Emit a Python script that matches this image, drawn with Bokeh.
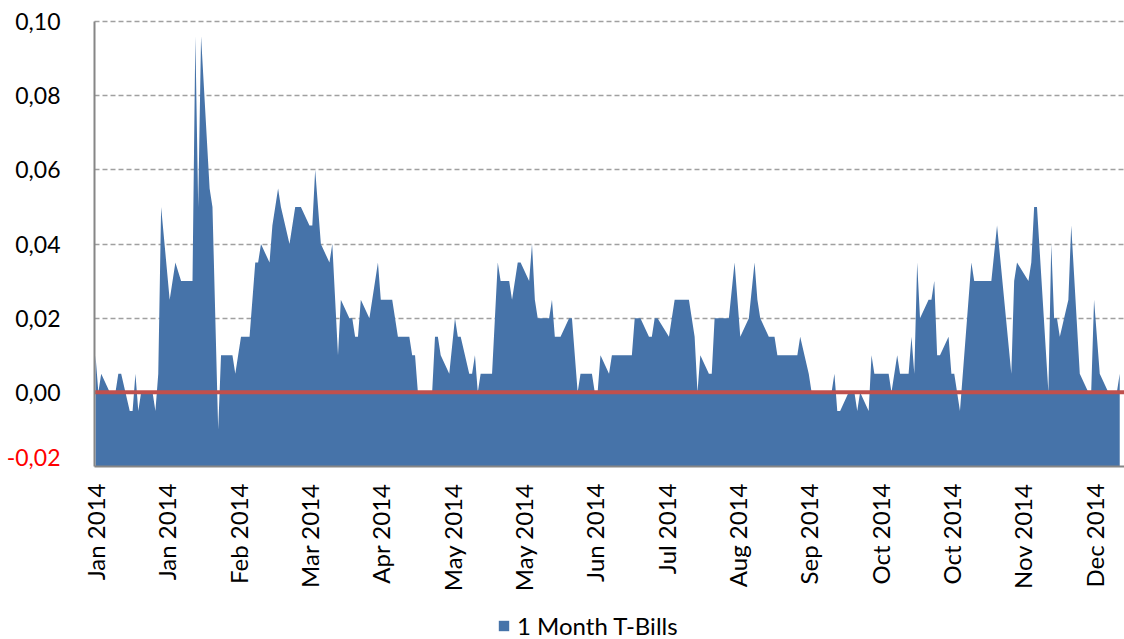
import math
import pandas as pd
from bokeh.plotting import figure
from bokeh.models import (Range1d, FixedTicker, CustomJSTickFormatter, LinearAxis,
                          Legend, LegendItem, Grid)
from bokeh.embed import file_html
from bokeh.resources import INLINE

# ---------------- data ----------------
dates = [
    "2014-01-01", "2014-01-02", "2014-01-03", "2014-01-06", "2014-01-08", "2014-01-09",
    "2014-01-10", "2014-01-13", "2014-01-14", "2014-01-15", "2014-01-16", "2014-01-17",
    "2014-01-21", "2014-01-22", "2014-01-23", "2014-01-24", "2014-01-27", "2014-01-29",
    "2014-01-31", "2014-02-04", "2014-02-05", "2014-02-06", "2014-02-07", "2014-02-10",
    "2014-02-11", "2014-02-13", "2014-02-14", "2014-02-18", "2014-02-19", "2014-02-21",
    "2014-02-24", "2014-02-26", "2014-02-27", "2014-02-28", "2014-03-03", "2014-03-04",
    "2014-03-06", "2014-03-07", "2014-03-10", "2014-03-12", "2014-03-14", "2014-03-17",
    "2014-03-18", "2014-03-19", "2014-03-21", "2014-03-24", "2014-03-25", "2014-03-27",
    "2014-03-28", "2014-03-31", "2014-04-01", "2014-04-02", "2014-04-03", "2014-04-04",
    "2014-04-07", "2014-04-10", "2014-04-11", "2014-04-15", "2014-04-17", "2014-04-21",
    "2014-04-22", "2014-04-23", "2014-04-24", "2014-04-29", "2014-04-30", "2014-05-01",
    "2014-05-02", "2014-05-05", "2014-05-07", "2014-05-08", "2014-05-09", "2014-05-12",
    "2014-05-13", "2014-05-14", "2014-05-15", "2014-05-16", "2014-05-20", "2014-05-22",
    "2014-05-23", "2014-05-26", "2014-05-27", "2014-05-29", "2014-05-30", "2014-06-02",
    "2014-06-03", "2014-06-04", "2014-06-05", "2014-06-09", "2014-06-10", "2014-06-11",
    "2014-06-13", "2014-06-16", "2014-06-17", "2014-06-19", "2014-06-20", "2014-06-24",
    "2014-06-25", "2014-06-26", "2014-06-27", "2014-06-30", "2014-07-01", "2014-07-08",
    "2014-07-09", "2014-07-11", "2014-07-14", "2014-07-15", "2014-07-16", "2014-07-17",
    "2014-07-21", "2014-07-23", "2014-07-28", "2014-07-30", "2014-07-31", "2014-08-01",
    "2014-08-04", "2014-08-05", "2014-08-06", "2014-08-11", "2014-08-13", "2014-08-15",
    "2014-08-18", "2014-08-20", "2014-08-21", "2014-08-22", "2014-08-25", "2014-08-27",
    "2014-08-28", "2014-09-04", "2014-09-05", "2014-09-08", "2014-09-09", "2014-09-16",
    "2014-09-17", "2014-09-18", "2014-09-19", "2014-09-22", "2014-09-24", "2014-09-25",
    "2014-09-26", "2014-09-29", "2014-09-30", "2014-10-01", "2014-10-06", "2014-10-07",
    "2014-10-09", "2014-10-10", "2014-10-13", "2014-10-14", "2014-10-15", "2014-10-16",
    "2014-10-17", "2014-10-20", "2014-10-21", "2014-10-22", "2014-10-23", "2014-10-24",
    "2014-10-27", "2014-10-28", "2014-10-29", "2014-10-31", "2014-11-04", "2014-11-05",
    "2014-11-11", "2014-11-13", "2014-11-18", "2014-11-19", "2014-11-20", "2014-11-24",
    "2014-11-25", "2014-11-26", "2014-11-27", "2014-12-01", "2014-12-02", "2014-12-03",
    "2014-12-04", "2014-12-05", "2014-12-08", "2014-12-09", "2014-12-12", "2014-12-15",
    "2014-12-16", "2014-12-17", "2014-12-19", "2014-12-22", "2014-12-25", "2014-12-26",
]
tbill_1m = [
    0.010, 0.000, 0.005, 0.000, 0.000, 0.005,
    0.005, -0.005, -0.005, 0.005, -0.005, 0.000,
    0.000, -0.005, 0.005, 0.050, 0.025, 0.035,
    0.030, 0.030, 0.096, 0.050, 0.096, 0.055,
    0.050, -0.010, 0.010, 0.010, 0.005, 0.015,
    0.015, 0.035, 0.035, 0.040, 0.035, 0.045,
    0.055, 0.050, 0.040, 0.050, 0.050, 0.045,
    0.045, 0.060, 0.040, 0.035, 0.040, 0.010,
    0.025, 0.020, 0.020, 0.015, 0.015, 0.025,
    0.020, 0.035, 0.025, 0.025, 0.015, 0.015,
    0.010, 0.010, 0.000, 0.000, 0.015, 0.015,
    0.010, 0.005, 0.020, 0.015, 0.015, 0.005,
    0.005, 0.010, 0.000, 0.005, 0.005, 0.035,
    0.030, 0.030, 0.025, 0.035, 0.035, 0.030,
    0.040, 0.025, 0.020, 0.020, 0.025, 0.015,
    0.015, 0.020, 0.020, 0.000, 0.005, 0.005,
    0.000, 0.000, 0.010, 0.005, 0.010, 0.010,
    0.020, 0.020, 0.015, 0.015, 0.020, 0.020,
    0.015, 0.025, 0.025, 0.015, 0.000, 0.010,
    0.005, 0.005, 0.020, 0.020, 0.035, 0.015,
    0.020, 0.035, 0.025, 0.020, 0.015, 0.015,
    0.010, 0.010, 0.015, 0.005, 0.000, 0.000,
    0.005, -0.005, -0.005, 0.000, 0.000, -0.005,
    0.000, -0.005, 0.010, 0.005, 0.005, 0.000,
    0.010, 0.005, 0.005, 0.015, 0.005, 0.035,
    0.020, 0.025, 0.025, 0.030, 0.010, 0.010,
    0.015, 0.005, 0.005, -0.005, 0.035, 0.030,
    0.030, 0.045, 0.005, 0.030, 0.035, 0.030,
    0.035, 0.050, 0.050, 0.000, 0.040, 0.020,
    0.020, 0.015, 0.025, 0.045, 0.005, 0.000,
    0.000, 0.025, 0.005, 0.000, 0.000, 0.005,
]
tick_dates = ["2014-01-01", "2014-01-26", "2014-02-20", "2014-03-17", "2014-04-11",
              "2014-05-06", "2014-05-31", "2014-06-25", "2014-07-20", "2014-08-14",
              "2014-09-08", "2014-10-03", "2014-10-28", "2014-11-22", "2014-12-17"]
tick_labels = ["Jan 2014", "Jan 2014", "Feb 2014", "Mar 2014", "Apr 2014",
               "May 2014", "May 2014", "Jun 2014", "Jul 2014", "Aug 2014",
               "Sep 2014", "Oct 2014", "Oct 2014", "Nov 2014", "Dec 2014"]
y_ticks = [0.0, 0.02, 0.04, 0.06, 0.08, 0.10]
y_min, y_max = -0.02, 0.10
zero_level = 0.0
series_name = "1 Month T-Bills"

# ---------------- layout constants ----------------
W, H = 1124, 639
AXIS_LEFT, AXIS_TOP, AXIS_BOTTOM = 94, 21, 466        # pixel position of the value axes
px_per_day = 2.853
px_per_unit = (AXIS_BOTTOM - AXIS_TOP) / (y_max - y_min)
y_lo = y_min - (H - AXIS_BOTTOM) / px_per_unit        # room below the axis for labels/legend
y_hi = y_max + AXIS_TOP / px_per_unit                 # room above for the top tick label
x_axis = -0.35                                        # day value where the value axis sits
x_lo = x_axis - AXIS_LEFT / px_per_day                # room left of it for tick labels
x_hi = x_axis + (W - AXIS_LEFT) / px_per_day
neg_label_lift = 9 / px_per_unit                      # Excel nudges the lowest label upwards

# ---------------- build ----------------
base = pd.Timestamp("2014-01-01")
x_days = [int(v) for v in (pd.to_datetime(dates) - base).days]
tick_x = [int(v) for v in (pd.to_datetime(tick_dates) - base).days]

FONT = "Lato"
BLUE = "#4673A9"
AXIS_GREY = "#868686"

p = figure(width=W, height=H, output_backend="svg", toolbar_location=None,
           x_range=Range1d(x_lo, x_hi), y_range=Range1d(y_lo, y_hi),
           min_border_left=0, min_border_right=0, min_border_top=0,
           min_border_bottom=0)
p.outline_line_color = None
p.background_fill_color = "white"
p.border_fill_color = "white"

area = p.varea(x=x_days, y1=y_min, y2=tbill_1m, fill_color=BLUE, fill_alpha=1.0)

# red zero line across the value area
p.line(x=[x_axis, x_hi], y=[zero_level, zero_level], line_color="#C0504D", line_width=4)

# grid (dashed, only inside the value area)
p.xgrid.visible = False
p.ygrid.ticker = FixedTicker(ticks=y_ticks)
p.ygrid.grid_line_color = "#A0A0A0"
p.ygrid.grid_line_dash = "5 3"
p.ygrid.grid_line_width = 1.5
if "cross_bounds" in Grid.properties():
    p.ygrid.cross_bounds = (x_axis, x_hi)

# y axis (black labels), drawn at the start of the value area
p.yaxis.fixed_location = x_axis
p.yaxis.ticker = FixedTicker(ticks=y_ticks)
p.yaxis.bounds = (y_min, y_max)
p.yaxis.formatter = CustomJSTickFormatter(
    code="return tick.toFixed(2).replace('.', ',');")
p.yaxis.axis_line_color = AXIS_GREY
p.yaxis.axis_line_width = 2
p.yaxis.major_tick_line_color = None
p.yaxis.minor_tick_line_color = None
p.yaxis.major_tick_out = 0
p.yaxis.major_tick_in = 0
p.yaxis.major_label_standoff = 34
p.yaxis.major_label_text_font = FONT
p.yaxis.major_label_text_font_size = "23px"
p.yaxis.major_label_text_color = "black"

# second value axis carrying only the red negative label
neg_axis = LinearAxis(
    fixed_location=x_axis,
    ticker=FixedTicker(ticks=[y_min + neg_label_lift]),
    formatter=CustomJSTickFormatter(code="return tick.toFixed(2).replace('.', ',');"),
    axis_line_color=None, major_tick_line_color=None, minor_tick_line_color=None,
    major_tick_out=0, major_tick_in=0, major_label_standoff=34,
    major_label_text_color="#FF0000", major_label_text_font=FONT,
    major_label_text_font_size="23px")
p.add_layout(neg_axis, "left")

# x axis drawn at the bottom of the value range
p.xaxis.fixed_location = y_min
p.xaxis.bounds = (x_axis, x_hi)
p.xaxis.ticker = FixedTicker(ticks=tick_x)
p.xaxis.formatter = CustomJSTickFormatter(
    args=dict(pos=tick_x, labs=tick_labels),
    code="const i = pos.indexOf(tick); return i >= 0 ? labs[i] : '';")
p.xaxis.major_label_orientation = math.pi / 2
p.xaxis.axis_line_color = AXIS_GREY
p.xaxis.axis_line_width = 2
p.xaxis.major_tick_line_color = None
p.xaxis.minor_tick_line_color = None
p.xaxis.major_tick_out = 0
p.xaxis.major_tick_in = 0
p.xaxis.major_label_standoff = 17
p.xaxis.major_label_text_font = FONT
p.xaxis.major_label_text_font_size = "24px"
p.xaxis.major_label_text_color = "black"

legend = Legend(items=[LegendItem(label=series_name, renderers=[area])],
                location=(497, -1), orientation="horizontal",
                glyph_width=13, glyph_height=13, padding=0, margin=0, spacing=0,
                label_standoff=7, border_line_color=None, background_fill_alpha=0,
                label_text_font=FONT, label_text_font_size="24px",
                label_text_color="black")
p.add_layout(legend)

open("out.html", "w").write(file_html(p, INLINE))
